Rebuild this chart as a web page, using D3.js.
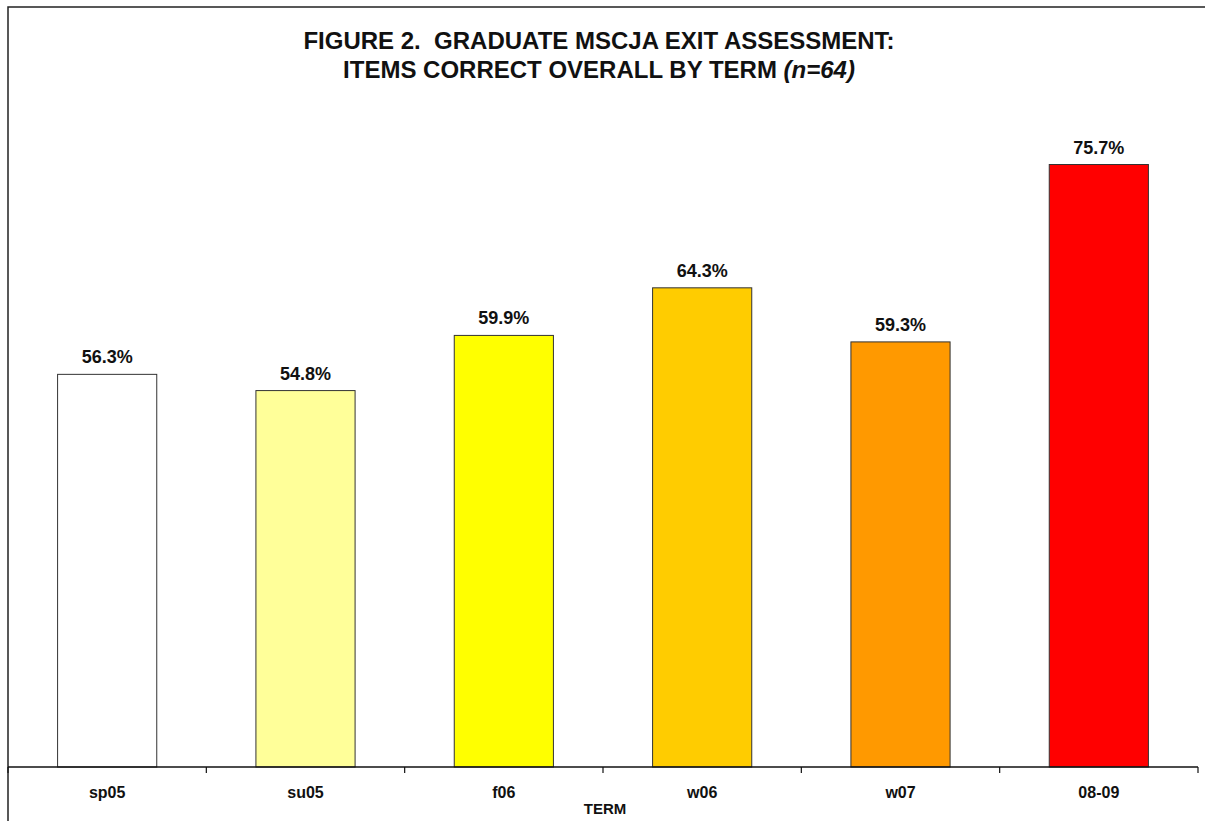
<!DOCTYPE html>
<html>
<head>
<meta charset="utf-8">
<script src="https://cdn.jsdelivr.net/npm/d3@7"></script>
<style>
  body { margin: 0; background: #fff; }
  #chart { width: 1205px; height: 821px; }
  text { font-family: "Liberation Sans", Arial, sans-serif; }
</style>
</head>
<body>
<div id="chart"></div>
<script>
const terms = ['sp05', 'su05', 'f06', 'w06', 'w07', '08-09'];
const pctCorrect = [56.3, 54.8, 59.9, 64.3, 59.3, 75.7];
const barColors = ['#ffffff', '#ffff99', '#ffff00', '#ffcc00', '#ff9900', '#ff0000'];
const titleLines = ['FIGURE 2.  GRADUATE MSCJA EXIT ASSESSMENT:', 'ITEMS CORRECT OVERALL BY TERM '];

const width_svg = 1205, height_svg = 821;
const margin = {top: 118, right: 7, bottom: 54, left: 8};

const svg = d3.select('#chart').append('svg')
  .attr('width', width_svg)
  .attr('height', height_svg);

// frame (left + top edge of the chart area)
svg.append('path')
  .attr('d', `M${margin.left},${height_svg} V7 H${width_svg}`)
  .attr('fill', 'none')
  .attr('stroke', '#222')
  .attr('stroke-width', 1.5);

let xScale = d3.scaleBand()
  .domain(terms)
  .range([margin.left, width_svg - margin.right])
  .paddingInner(0.5)
  .paddingOuter(0.25);

// axis does not start at zero
let yScale = d3.scaleLinear()
  .domain([20, 80])
  .range([height_svg - margin.bottom, margin.top]);

// bars
svg.append('g')
  .selectAll('rect')
  .data(pctCorrect)
  .enter().append('rect')
    .attr('x', (d, i) => xScale(terms[i]))
    .attr('y', d => yScale(d))
    .attr('width', xScale.bandwidth())
    .attr('height', d => yScale(20) - yScale(d))
    .attr('fill', (d, i) => barColors[i])
    .attr('stroke', '#333')
    .attr('stroke-width', 1);

// value labels
svg.append('g')
  .selectAll('text')
  .data(pctCorrect)
  .enter().append('text')
    .attr('x', (d, i) => xScale(terms[i]) + xScale.bandwidth() / 2)
    .attr('y', d => yScale(d) - 11)
    .attr('text-anchor', 'middle')
    .attr('font-size', 18)
    .attr('font-weight', 'bold')
    .attr('fill', '#111')
    .text(d => d.toFixed(1) + '%');

// x axis with ticks between categories
let step = xScale.step();
let xAxis = g => g.attr('transform', `translate(0, ${height_svg - margin.bottom})`)
  .call(g => g.append('line')
    .attr('x1', margin.left).attr('x2', width_svg - margin.right)
    .attr('stroke', '#111').attr('stroke-width', 1.5))
  .call(g => g.selectAll('.tickmark')
    .data(d3.range(terms.length + 1))
    .enter().append('line')
      .attr('class', 'tickmark')
      .attr('x1', i => margin.left + i * step)
      .attr('x2', i => margin.left + i * step)
      .attr('y2', 6)
      .attr('stroke', '#111').attr('stroke-width', 1.2))
  .call(g => g.selectAll('.lbl')
    .data(terms)
    .enter().append('text')
      .attr('class', 'lbl')
      .attr('x', d => xScale(d) + xScale.bandwidth() / 2)
      .attr('y', 31)
      .attr('text-anchor', 'middle')
      .attr('font-size', 16)
      .attr('font-weight', 'bold')
      .attr('fill', '#111')
      .text(d => d));

svg.append('g').call(xAxis);

svg.append('text')
  .attr('x', 605)
  .attr('y', 814)
  .attr('text-anchor', 'middle')
  .attr('font-size', 15)
  .attr('font-weight', 'bold')
  .attr('fill', '#111')
  .text('TERM');

// title
let title = svg.append('g')
  .attr('font-size', 24)
  .attr('font-weight', 'bold')
  .attr('fill', '#111')
  .attr('text-anchor', 'middle');
title.append('text')
  .attr('x', 599).attr('y', 49)
  .style('white-space', 'pre')
  .text(titleLines[0]);
let t2 = title.append('text')
  .attr('x', 599).attr('y', 78)
  .style('white-space', 'pre');
t2.append('tspan').text(titleLines[1]);
t2.append('tspan').attr('font-style', 'italic').text('(n=64)');
</script>
</body>
</html>
